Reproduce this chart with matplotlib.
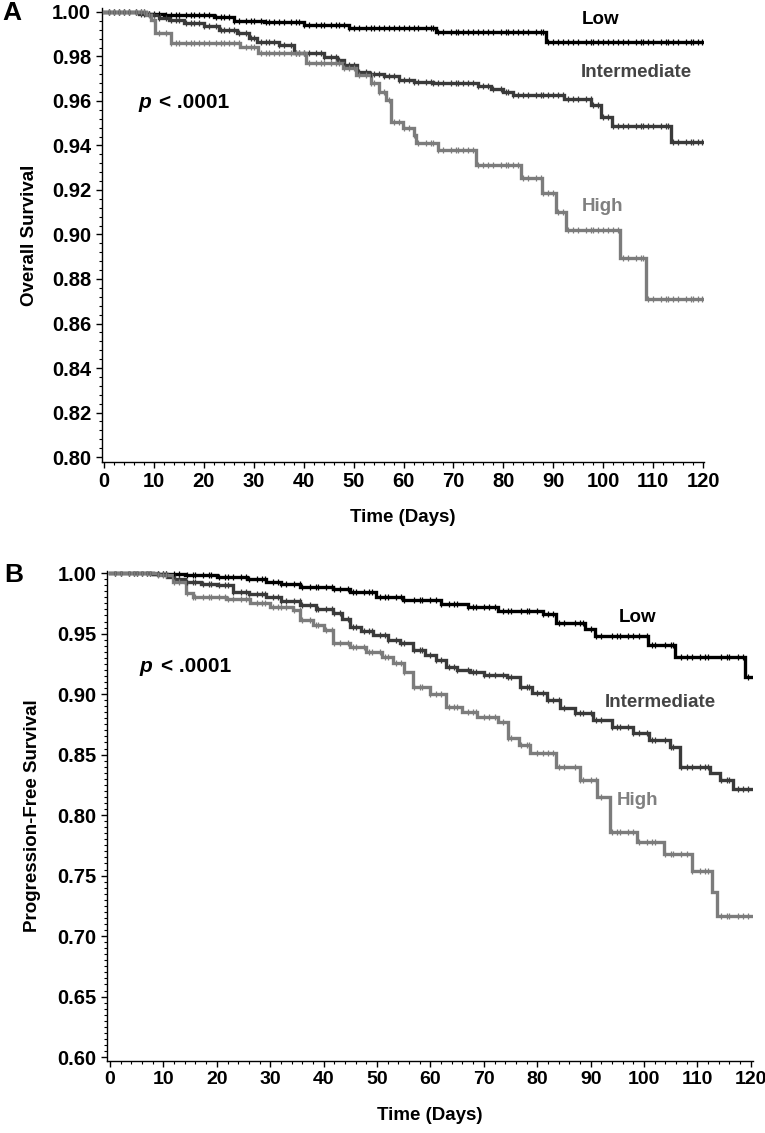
import numpy as np
import matplotlib
matplotlib.use('Agg')
import matplotlib.pyplot as plt
from matplotlib.ticker import MultipleLocator, FormatStrFormatter
from matplotlib.transforms import ScaledTranslation

plt.rcParams['font.family'] = ['Liberation Sans', 'DejaVu Sans']
plt.rcParams['font.weight'] = 'bold'

# ---- panel A: overall survival (time of drop, survival after drop) ----
os_low_t = [0, 8.5, 12, 22, 26, 32, 40, 49, 66.6, 88.6]
os_low_s = [1.0, 0.9993, 0.9988, 0.9979, 0.9961, 0.9954, 0.9942, 0.9927, 0.9912, 0.9866]

os_int_t = [0, 7, 9.5, 11, 13, 16, 20, 23, 26.7, 29, 30.7, 35, 38, 44, 46.7, 48,
            50.7, 53, 56, 59, 62, 66, 75, 77.5, 80, 82, 92.2, 97.6, 99.6, 101.7, 113.6]
os_int_s = [1.0, 0.9993, 0.9985, 0.9975, 0.9963, 0.9950, 0.9935, 0.9919, 0.9904, 0.9885,
            0.9867, 0.9852, 0.9814, 0.9799, 0.9784, 0.9762, 0.9732, 0.9720, 0.9710, 0.9694,
            0.9685, 0.9679, 0.9668, 0.9655, 0.9640, 0.9627, 0.9608, 0.9582, 0.9529, 0.9489, 0.9417]

os_high_t = [0, 8.5, 9.5, 10.3, 13.5, 27.3, 30.9, 40.5, 47.9, 50.5, 53.5, 55, 56.5, 57.5,
             59.9, 62, 62.5, 66.9, 74.5, 83.5, 87.7, 90.5, 92.5, 103.3, 108.5]
os_high_s = [1.0, 0.9987, 0.9964, 0.9904, 0.9862, 0.9844, 0.9814, 0.9769, 0.9747, 0.9717,
             0.9680, 0.9640, 0.9604, 0.9507, 0.9478, 0.9447, 0.9413, 0.9380, 0.9312, 0.9253,
             0.9185, 0.9102, 0.9020, 0.8893, 0.8710]

# ---- panel B: progression-free survival ----
pfs_low_t = [0, 8, 14, 20, 25.6, 29.3, 32, 35.6, 41.8, 45, 49.9, 54.9, 62, 67, 72.6, 81,
             83.6, 88.9, 90.8, 100.8, 105.8, 118.9]
pfs_low_s = [1.0, 0.9992, 0.9983, 0.9970, 0.9948, 0.9928, 0.9910, 0.9887, 0.9872, 0.9846,
             0.9804, 0.9777, 0.9744, 0.9722, 0.9689, 0.9661, 0.9584, 0.9534, 0.9480, 0.9405,
             0.9308, 0.9143]

pfs_int_t = [0, 8, 10.6, 12, 14, 17, 20, 23, 26, 29.3, 32, 35.6, 38.5, 41.8, 43.5, 45, 47,
             49.3, 52, 54.3, 56.7, 59, 61, 63, 65, 67.4, 70, 74.3, 76.7, 79, 81.8, 84.3, 87,
             90.5, 94, 98, 101, 104.8, 106.7, 112.3, 114.2, 116.7]
pfs_int_s = [1.0, 0.9990, 0.9970, 0.9955, 0.9928, 0.9912, 0.9900, 0.9846, 0.9825, 0.9804,
             0.9770, 0.9736, 0.9705, 0.9667, 0.9620, 0.9556, 0.9520, 0.9488, 0.9450, 0.9419,
             0.9364, 0.9320, 0.9280, 0.9226, 0.9200, 0.9184, 0.9160, 0.9143, 0.9060, 0.9010,
             0.8950, 0.8882, 0.8840, 0.8785, 0.8730, 0.8675, 0.8620, 0.8565, 0.8400, 0.8345,
             0.8289, 0.8212]

pfs_high_t = [0, 9, 11.8, 14.3, 15.5, 21.8, 26.2, 30, 34.3, 35.6, 38, 40, 41.8, 45, 48, 51,
              53, 55, 56.7, 60, 63, 66, 68.7, 72.6, 74.5, 76.5, 78.6, 83.6, 88, 91.2, 93.7,
              98.6, 103.8, 108.9, 112.7, 113.6]
pfs_high_s = [1.0, 0.9985, 0.9928, 0.9832, 0.9804, 0.9790, 0.9750, 0.9720, 0.9694, 0.9612,
              0.9570, 0.9529, 0.9419, 0.9390, 0.9350, 0.9308, 0.9254, 0.9180, 0.9060, 0.9000,
              0.8895, 0.8850, 0.8812, 0.8770, 0.8634, 0.8580, 0.8510, 0.8400, 0.8289, 0.8150,
              0.7862, 0.7776, 0.7677, 0.7539, 0.7362, 0.7169]

# censoring marks (days)
os_censor = [1, 2, 3, 4, 5, 6.5, 7.5, 8, 9, 10, 11, 12.5, 13.5, 14.5, 15, 16.5, 17.5, 18,
             19, 20, 21, 22.5, 23.5, 24, 25, 26, 27, 28.5, 29.5, 30, 31.5, 32.5, 33, 34, 35,
             36, 37.5, 38.5, 39, 40, 41, 42.5, 43.5, 44, 45.5, 46.5, 47, 48, 49, 50, 51,
             52.5, 53.5, 54, 55, 56, 57, 58, 59, 60, 61, 62, 63, 64.5, 65.5, 66, 67, 68,
             69.5, 70.5, 71, 72, 73, 74, 75, 76, 77, 78, 79.5, 80.5, 81, 82, 83, 84, 85,
             86.5, 87.5, 88, 89, 90, 91, 92, 93, 94, 95, 96.5, 97.5, 98, 99, 100, 101,
             102, 103, 104, 105, 106.5, 107.5, 108, 109, 110, 111.5, 112.5, 113, 114, 115,
             116.5, 117.5, 118, 119, 119.8]
pfs_censor = [1, 2, 3.5, 4.5, 5, 6, 7, 7.5, 9, 10, 10.5, 12, 13, 14.5, 15.5, 16, 17.5, 18.5,
              19, 20.5, 21.5, 22, 23, 24.5, 25.5, 26, 27.5, 28.5, 29, 30.5, 31.5, 32, 33,
              34.5, 35.5, 36, 37.5, 38.5, 39, 40.5, 41.5, 42, 43, 44.5, 45.5, 46, 47.5, 48.5,
              49, 50.5, 51.5, 52, 53.5, 54.5, 55, 57, 58, 58.5, 60, 61, 62, 63.5, 64.5, 65,
              67, 68, 68.5, 70, 71, 72, 73.5, 74.5, 75, 77, 78, 78.5, 80, 81, 82, 83, 84,
              85, 87, 88, 88.5, 90, 91, 92, 94, 95, 95.5, 97, 98, 99, 100.5, 101.5, 102, 104,
              105, 105.5, 107, 108, 109, 110.5, 111.5, 112, 114.5, 115.5, 116, 117.5, 118.5,
              119.5]

groups = ['Low', 'Intermediate', 'High']
colors = ['#000000', '#3a3a3a', '#7c7c7c']
text_colors = ['#000000', '#444444', '#808080']


def draw_curve(ax, t, s, censor, color, t_end=120):
    t = np.array(t + [t_end])
    s = np.array(s + [s[-1]])
    ax.step(t, s, where='post', color=color, lw=2.4, solid_joinstyle='miter', zorder=3)
    c = np.array(censor)
    idx = np.searchsorted(t, c, side='right') - 1
    ax.plot(c, s[idx], ls='none', marker='|', ms=5, mew=0.9, color=color, zorder=4)


def style_axes(ax, ymaj, ymin, yfmt, xsize=14.5):
    for side in ['top', 'right']:
        ax.spines[side].set_visible(False)
    for side in ['left', 'bottom']:
        ax.spines[side].set_linewidth(1.0)
    ax.xaxis.set_major_locator(MultipleLocator(10))
    ax.xaxis.set_minor_locator(MultipleLocator(2))
    ax.yaxis.set_major_locator(MultipleLocator(ymaj))
    ax.yaxis.set_minor_locator(MultipleLocator(ymin))
    ax.yaxis.set_major_formatter(FormatStrFormatter(yfmt))
    ax.tick_params(which='major', length=4.5, width=1.0, labelsize=14.5, pad=3)
    ax.tick_params(axis='x', which='major', labelsize=xsize)
    ax.tick_params(which='minor', length=2.5, width=0.8)
    for lab in ax.get_xticklabels() + ax.get_yticklabels():
        lab.set_fontweight('bold')


fig = plt.figure(figsize=(7.65, 11.33), dpi=100)

# panel A
ax1 = fig.add_axes([0.1327, 0.5923, 0.7876, 0.4003])
draw_curve(ax1, os_low_t, os_low_s, os_censor, colors[0])
draw_curve(ax1, os_int_t, os_int_s, os_censor, colors[1])
draw_curve(ax1, os_high_t, os_high_s, os_censor, colors[2])
ax1.set_xlim(-0.5, 120.2)
ax1.set_ylim(0.7978, 1.0016)
style_axes(ax1, 0.02, 0.004, '%.2f')
ax1.set_xlabel('Time (Days)', fontsize=13.5, fontweight='bold', labelpad=13)
ax1.set_ylabel('Overall Survival', fontsize=13.5, fontweight='bold', labelpad=10)
ax1.text(99.4, 0.9964, groups[0], color=text_colors[0], fontsize=13.5, fontweight='bold',
         ha='center', va='center')
ax1.text(106.6, 0.9728, groups[1], color=text_colors[1], fontsize=13.5, fontweight='bold',
         ha='center', va='center')
ax1.text(99.8, 0.9128, groups[2], color=text_colors[2], fontsize=13.5, fontweight='bold',
         ha='center', va='center')
ax1.text(6.8, 0.9591, 'p', fontsize=15, fontweight='bold', fontstyle='italic',
         ha='left', va='center')
ax1.annotate('< .0001', xy=(6.8, 0.9591), xytext=(15, 0), textcoords='offset points',
             fontsize=15, fontweight='bold', ha='left', va='center')
fig.text(12 / 765, 1 - 13 / 1133, 'A', fontsize=19, fontweight='bold', ha='center', va='center')

# panel B
ax2 = fig.add_axes([0.1399, 0.0635, 0.8444, 0.4328])
draw_curve(ax2, pfs_low_t, pfs_low_s, pfs_censor, colors[0])
draw_curve(ax2, pfs_int_t, pfs_int_s, pfs_censor, colors[1])
draw_curve(ax2, pfs_high_t, pfs_high_s, pfs_censor, colors[2])
ax2.set_xlim(-0.56, 120.4)
ax2.set_ylim(0.5967, 1.002)
style_axes(ax2, 0.05, 0.005, '%.2f', xsize=14)
ax2.set_xlabel('Time (Days)', fontsize=13.5, fontweight='bold', labelpad=13)
ax2.set_ylabel('Progression-Free Survival', fontsize=13.5, fontweight='bold', labelpad=12)
ax2.text(98.8, 0.9636, groups[0], color=text_colors[0], fontsize=13.5, fontweight='bold',
         ha='center', va='center')
ax2.text(103.0, 0.8934, groups[1], color=text_colors[1], fontsize=13.5, fontweight='bold',
         ha='center', va='center')
ax2.text(98.8, 0.8124, groups[2], color=text_colors[2], fontsize=13.5, fontweight='bold',
         ha='center', va='center')
ax2.text(5.6, 0.9231, 'p', fontsize=15, fontweight='bold', fontstyle='italic',
         ha='left', va='center')
ax2.annotate('< .0001', xy=(5.6, 0.9231), xytext=(15, 0), textcoords='offset points',
             fontsize=15, fontweight='bold', ha='left', va='center')
fig.text(14 / 765, 1 - 575 / 1133, 'B', fontsize=19, fontweight='bold', ha='center', va='center')

# keep the last x label of panel B inside the figure, as in the original
fig.canvas.draw()
last = ax2.get_xticklabels()[-1]
last.set_transform(last.get_transform() + ScaledTranslation(-4 / 72, 0, fig.dpi_scale_trans))

fig.savefig('out.png', dpi=100)
